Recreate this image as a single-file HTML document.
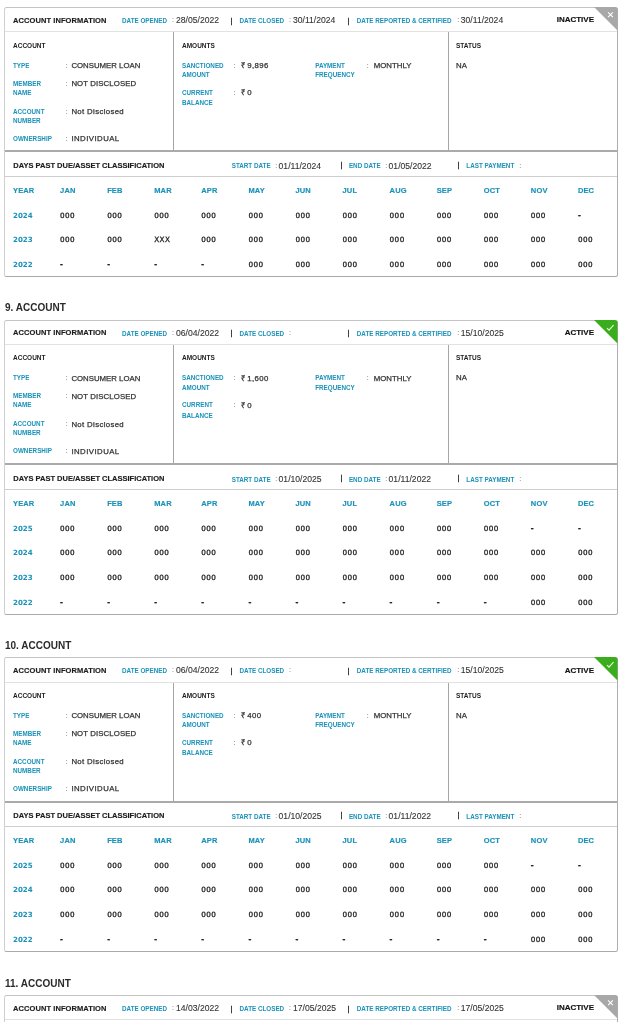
<!DOCTYPE html>
<html><head><meta charset="utf-8"><title>Account Report</title><style>
*{margin:0;padding:0;box-sizing:border-box}
html,body{width:630px;height:1026px;background:#fff}
.page{position:relative;width:630px;height:1026px;overflow:hidden;background:#fff}
body{font-family:"Liberation Sans",Arial,sans-serif;color:#1d1d1d}
.card{position:absolute;left:4px;width:614px;border:1px solid;border-color:#c4c4c4 #aeaeae #aaaaaa #d0d0d0;border-radius:2.5px;background:#fff}
.card>div{position:absolute;white-space:nowrap;line-height:0;height:0}
.hdr{left:0;right:0;top:23px;height:1px!important;background:#e2e2e2}
.vd{top:24px;width:1px;height:119px!important;background:#a6a6a6}
.thk{left:0;right:0;top:142px;height:2px!important;background:#aaaaaa}
.dpd{left:0;right:0;top:168px;height:1px!important;background:#cfcfcf}
.tri{position:absolute;right:-1px;top:-1px}
.ttl{position:absolute;left:5px;font-size:10px;letter-spacing:0px;font-weight:bold;color:#2a2a2a;line-height:0;white-space:nowrap}
.h1{font-size:7.5px;font-weight:bold;color:#1d1d1d;-webkit-text-stroke:0.15px #1d1d1d}
.h2{font-size:6.5px;font-weight:bold;color:#1d1d1d}
.lbs{font-size:6.3px;font-weight:bold;color:#1a92b9;margin-top:1px}
.lb{font-size:6.3px;font-weight:bold;color:#1a92b9}
.col{font-size:7px;color:#555}
.dt{font-size:8.6px;color:#333;-webkit-text-stroke:0.1px #333}
.v{font-size:7.8px;color:#333;-webkit-text-stroke:0.25px #333;margin-top:0.5px}
.card>.br{font-size:7.4px;color:#222;line-height:7px;height:7px!important;-webkit-text-stroke:0.3px #222}
.card>.ds{font-family:"Liberation Sans",sans-serif;font-weight:bold;font-size:8.6px;color:#222;margin-top:-1px}
.st{font-size:8px;font-weight:bold;color:#111;-webkit-text-stroke:0.15px #111}
.th{font-size:7.5px;font-weight:bold;color:#1a92b9;letter-spacing:0.15px;-webkit-text-stroke:0.15px #1a92b9}
.yr{font-family:"DejaVu Sans",sans-serif;font-size:7.1px;font-weight:bold;color:#1a92b9}
.td{font-family:"DejaVu Sans",sans-serif;font-size:7.25px;color:#222;letter-spacing:0.4px;-webkit-text-stroke:0.3px #222}
</style></head>
<body>
<div class="page">
<div class="card" style="top:7px;height:270.00px">
<div class="hdr" style="top:23px"></div>
<div class="h1" style="left:8px;top:12.5px;letter-spacing:0.08px">ACCOUNT INFORMATION</div>
<div class="lbs" style="left:117px;top:11.5px">DATE OPENED</div>
<div class="col" style="left:167px;top:11.5px">:</div>
<div class="dt" style="left:171px;top:11.5px">28/05/2022</div>
<div class="br" style="left:225.55px;top:9px">|</div>
<div class="lbs" style="left:234.5px;top:11.5px">DATE CLOSED</div>
<div class="col" style="left:284px;top:11.5px">:</div>
<div class="dt" style="left:288px;top:11.5px">30/11/2024</div>
<div class="br" style="left:342.55px;top:9px">|</div>
<div class="lbs" style="left:351.8px;top:11.5px">DATE REPORTED &amp; CERTIFIED</div>
<div class="col" style="left:452.3px;top:11.5px">:</div>
<div class="dt" style="left:455.8px;top:11.5px">30/11/2024</div>
<div class="st" style="right:23px;top:11.5px">INACTIVE</div>
<svg class="tri" width="24" height="24" viewBox="0 0 24 24"><path d="M0 0H20.5A3 3 0 0 1 23.5 3V23.5Z" fill="#a8a8a8"/><path d="M14.1 5.4L18.9 10.2M18.9 5.4L14.1 10.2" stroke="#fff" stroke-width="1.1" fill="none"/></svg>
<div class="vd" style="left:168px;top:24px;height:118px!important"></div>
<div class="vd" style="left:443px;top:24px;height:118px!important"></div>
<div class="h2" style="left:8px;top:37.9px">ACCOUNT</div>
<div class="h2" style="left:177px;top:37.9px">AMOUNTS</div>
<div class="h2" style="left:451px;top:37.9px">STATUS</div>
<div class="lb" style="left:8px;top:57.9px">TYPE</div>
<div class="col" style="left:60.7px;top:57.9px">:</div>
<div class="v" style="left:66.4px;top:57.9px">CONSUMER LOAN</div>
<div class="lb" style="left:8px;top:75.8px">MEMBER</div>
<div class="lb" style="left:8px;top:84.8px">NAME</div>
<div class="col" style="left:60.7px;top:75.8px">:</div>
<div class="v" style="left:66.4px;top:75.8px;letter-spacing:0.1px">NOT DISCLOSED</div>
<div class="lb" style="left:8px;top:103.5px">ACCOUNT</div>
<div class="lb" style="left:8px;top:112.5px">NUMBER</div>
<div class="col" style="left:60.7px;top:103.5px">:</div>
<div class="v" style="left:66.4px;top:103.5px;letter-spacing:0.35px">Not Disclosed</div>
<div class="lb" style="left:8px;top:130.5px">OWNERSHIP</div>
<div class="col" style="left:60.7px;top:130.5px">:</div>
<div class="v" style="left:66.4px;top:130.5px;letter-spacing:0.45px">INDIVIDUAL</div>
<div class="lb" style="left:177px;top:57.9px">SANCTIONED</div>
<div class="lb" style="left:177px;top:67.4px">AMOUNT</div>
<div class="col" style="left:228.6px;top:57.9px">:</div>
<div class="v" style="left:235.5px;top:57.9px;letter-spacing:0.35px">₹ 9,896</div>
<div class="lb" style="left:177px;top:84.8px">CURRENT</div>
<div class="lb" style="left:177px;top:95.0px">BALANCE</div>
<div class="col" style="left:228.6px;top:84.8px">:</div>
<div class="v" style="left:235.5px;top:84.8px;letter-spacing:0.35px">₹ 0</div>
<div class="lb" style="left:310.2px;top:57.9px">PAYMENT</div>
<div class="lb" style="left:310.2px;top:67.4px">FREQUENCY</div>
<div class="col" style="left:361.7px;top:57.9px">:</div>
<div class="v" style="left:368.8px;top:57.9px">MONTHLY</div>
<div class="v" style="left:451px;top:57.4px">NA</div>
<div class="thk" style="top:142px"></div>
<div class="h1" style="left:8.3px;top:157.6px">DAYS PAST DUE/ASSET CLASSIFICATION</div>
<div class="lbs" style="left:226.7px;top:156.6px">START DATE</div>
<div class="col" style="left:270.3px;top:157.6px">:</div>
<div class="dt" style="left:273.6px;top:157.6px">01/11/2024</div>
<div class="br" style="left:335.55px;top:153px">|</div>
<div class="lbs" style="left:343.9px;top:156.6px">END DATE</div>
<div class="col" style="left:380.2px;top:157.6px">:</div>
<div class="dt" style="left:383.6px;top:157.6px">01/05/2022</div>
<div class="br" style="left:452.55px;top:153px">|</div>
<div class="lbs" style="left:461.3px;top:156.6px">LAST PAYMENT</div>
<div class="col" style="left:514.2px;top:157.6px">:</div>
<div class="dpd"></div>
<div class="th" style="left:8.00px;top:182.88px">YEAR</div>
<div class="th" style="left:55.08px;top:182.88px">JAN</div>
<div class="th" style="left:102.15px;top:182.88px">FEB</div>
<div class="th" style="left:149.23px;top:182.88px">MAR</div>
<div class="th" style="left:196.31px;top:182.88px">APR</div>
<div class="th" style="left:243.38px;top:182.88px">MAY</div>
<div class="th" style="left:290.46px;top:182.88px">JUN</div>
<div class="th" style="left:337.54px;top:182.88px">JUL</div>
<div class="th" style="left:384.62px;top:182.88px">AUG</div>
<div class="th" style="left:431.69px;top:182.88px">SEP</div>
<div class="th" style="left:478.77px;top:182.88px">OCT</div>
<div class="th" style="left:525.85px;top:182.88px">NOV</div>
<div class="th" style="left:572.92px;top:182.88px">DEC</div>
<div class="yr" style="left:8.00px;top:207.62px">2024</div>
<div class="td" style="left:55.08px;top:207.62px">000</div>
<div class="td" style="left:102.15px;top:207.62px">000</div>
<div class="td" style="left:149.23px;top:207.62px">000</div>
<div class="td" style="left:196.31px;top:207.62px">000</div>
<div class="td" style="left:243.38px;top:207.62px">000</div>
<div class="td" style="left:290.46px;top:207.62px">000</div>
<div class="td" style="left:337.54px;top:207.62px">000</div>
<div class="td" style="left:384.62px;top:207.62px">000</div>
<div class="td" style="left:431.69px;top:207.62px">000</div>
<div class="td" style="left:478.77px;top:207.62px">000</div>
<div class="td" style="left:525.85px;top:207.62px">000</div>
<div class="td ds" style="left:572.92px;top:207.62px">-</div>
<div class="yr" style="left:8.00px;top:232.38px">2023</div>
<div class="td" style="left:55.08px;top:232.38px">000</div>
<div class="td" style="left:102.15px;top:232.38px">000</div>
<div class="td" style="left:149.23px;top:232.38px">XXX</div>
<div class="td" style="left:196.31px;top:232.38px">000</div>
<div class="td" style="left:243.38px;top:232.38px">000</div>
<div class="td" style="left:290.46px;top:232.38px">000</div>
<div class="td" style="left:337.54px;top:232.38px">000</div>
<div class="td" style="left:384.62px;top:232.38px">000</div>
<div class="td" style="left:431.69px;top:232.38px">000</div>
<div class="td" style="left:478.77px;top:232.38px">000</div>
<div class="td" style="left:525.85px;top:232.38px">000</div>
<div class="td" style="left:572.92px;top:232.38px">000</div>
<div class="yr" style="left:8.00px;top:257.12px">2022</div>
<div class="td ds" style="left:55.08px;top:257.12px">-</div>
<div class="td ds" style="left:102.15px;top:257.12px">-</div>
<div class="td ds" style="left:149.23px;top:257.12px">-</div>
<div class="td ds" style="left:196.31px;top:257.12px">-</div>
<div class="td" style="left:243.38px;top:257.12px">000</div>
<div class="td" style="left:290.46px;top:257.12px">000</div>
<div class="td" style="left:337.54px;top:257.12px">000</div>
<div class="td" style="left:384.62px;top:257.12px">000</div>
<div class="td" style="left:431.69px;top:257.12px">000</div>
<div class="td" style="left:478.77px;top:257.12px">000</div>
<div class="td" style="left:525.85px;top:257.12px">000</div>
<div class="td" style="left:572.92px;top:257.12px">000</div>
</div><div class="ttl" style="top:307.7px">9. ACCOUNT</div>
<div class="card" style="top:320px;height:294.75px">
<div class="hdr" style="top:23px"></div>
<div class="h1" style="left:8px;top:11.5px;letter-spacing:0.08px">ACCOUNT INFORMATION</div>
<div class="lbs" style="left:117px;top:11.5px">DATE OPENED</div>
<div class="col" style="left:167px;top:11.5px">:</div>
<div class="dt" style="left:171px;top:11.5px">06/04/2022</div>
<div class="br" style="left:225.55px;top:8px">|</div>
<div class="lbs" style="left:234.5px;top:11.5px">DATE CLOSED</div>
<div class="col" style="left:284px;top:11.5px">:</div>
<div class="dt" style="left:288px;top:11.5px"></div>
<div class="br" style="left:342.55px;top:8px">|</div>
<div class="lbs" style="left:351.8px;top:11.5px">DATE REPORTED &amp; CERTIFIED</div>
<div class="col" style="left:452.3px;top:11.5px">:</div>
<div class="dt" style="left:455.8px;top:11.5px">15/10/2025</div>
<div class="st" style="right:23px;top:11.5px">ACTIVE</div>
<svg class="tri" width="24" height="24" viewBox="0 0 24 24"><path d="M0 0H20.5A3 3 0 0 1 23.5 3V23.5Z" fill="#3aad1c"/><path d="M13 8.2L15 10.2L19.5 5.1" stroke="#e8ffe0" stroke-width="1.1" fill="none"/></svg>
<div class="vd" style="left:168px;top:24px;height:118px!important"></div>
<div class="vd" style="left:443px;top:24px;height:118px!important"></div>
<div class="h2" style="left:8px;top:37.4px">ACCOUNT</div>
<div class="h2" style="left:177px;top:37.4px">AMOUNTS</div>
<div class="h2" style="left:451px;top:37.4px">STATUS</div>
<div class="lb" style="left:8px;top:57.4px">TYPE</div>
<div class="col" style="left:60.7px;top:57.4px">:</div>
<div class="v" style="left:66.4px;top:57.4px">CONSUMER LOAN</div>
<div class="lb" style="left:8px;top:75.3px">MEMBER</div>
<div class="lb" style="left:8px;top:84.3px">NAME</div>
<div class="col" style="left:60.7px;top:75.3px">:</div>
<div class="v" style="left:66.4px;top:75.3px;letter-spacing:0.1px">NOT DISCLOSED</div>
<div class="lb" style="left:8px;top:103.0px">ACCOUNT</div>
<div class="lb" style="left:8px;top:112.0px">NUMBER</div>
<div class="col" style="left:60.7px;top:103.0px">:</div>
<div class="v" style="left:66.4px;top:103.0px;letter-spacing:0.35px">Not Disclosed</div>
<div class="lb" style="left:8px;top:130.0px">OWNERSHIP</div>
<div class="col" style="left:60.7px;top:130.0px">:</div>
<div class="v" style="left:66.4px;top:130.0px;letter-spacing:0.45px">INDIVIDUAL</div>
<div class="lb" style="left:177px;top:57.4px">SANCTIONED</div>
<div class="lb" style="left:177px;top:66.9px">AMOUNT</div>
<div class="col" style="left:228.6px;top:57.4px">:</div>
<div class="v" style="left:235.5px;top:57.4px;letter-spacing:0.35px">₹ 1,600</div>
<div class="lb" style="left:177px;top:84.3px">CURRENT</div>
<div class="lb" style="left:177px;top:94.5px">BALANCE</div>
<div class="col" style="left:228.6px;top:84.3px">:</div>
<div class="v" style="left:235.5px;top:84.3px;letter-spacing:0.35px">₹ 0</div>
<div class="lb" style="left:310.2px;top:57.4px">PAYMENT</div>
<div class="lb" style="left:310.2px;top:66.9px">FREQUENCY</div>
<div class="col" style="left:361.7px;top:57.4px">:</div>
<div class="v" style="left:368.8px;top:57.4px">MONTHLY</div>
<div class="v" style="left:451px;top:56.9px">NA</div>
<div class="thk" style="top:142px"></div>
<div class="h1" style="left:8.3px;top:157.6px">DAYS PAST DUE/ASSET CLASSIFICATION</div>
<div class="lbs" style="left:226.7px;top:157.6px">START DATE</div>
<div class="col" style="left:270.3px;top:157.6px">:</div>
<div class="dt" style="left:273.6px;top:157.6px">01/10/2025</div>
<div class="br" style="left:335.55px;top:153px">|</div>
<div class="lbs" style="left:343.9px;top:157.6px">END DATE</div>
<div class="col" style="left:380.2px;top:157.6px">:</div>
<div class="dt" style="left:383.6px;top:157.6px">01/11/2022</div>
<div class="br" style="left:452.55px;top:153px">|</div>
<div class="lbs" style="left:461.3px;top:157.6px">LAST PAYMENT</div>
<div class="col" style="left:514.2px;top:157.6px">:</div>
<div class="dpd"></div>
<div class="th" style="left:8.00px;top:182.88px">YEAR</div>
<div class="th" style="left:55.08px;top:182.88px">JAN</div>
<div class="th" style="left:102.15px;top:182.88px">FEB</div>
<div class="th" style="left:149.23px;top:182.88px">MAR</div>
<div class="th" style="left:196.31px;top:182.88px">APR</div>
<div class="th" style="left:243.38px;top:182.88px">MAY</div>
<div class="th" style="left:290.46px;top:182.88px">JUN</div>
<div class="th" style="left:337.54px;top:182.88px">JUL</div>
<div class="th" style="left:384.62px;top:182.88px">AUG</div>
<div class="th" style="left:431.69px;top:182.88px">SEP</div>
<div class="th" style="left:478.77px;top:182.88px">OCT</div>
<div class="th" style="left:525.85px;top:182.88px">NOV</div>
<div class="th" style="left:572.92px;top:182.88px">DEC</div>
<div class="yr" style="left:8.00px;top:207.62px">2025</div>
<div class="td" style="left:55.08px;top:207.62px">000</div>
<div class="td" style="left:102.15px;top:207.62px">000</div>
<div class="td" style="left:149.23px;top:207.62px">000</div>
<div class="td" style="left:196.31px;top:207.62px">000</div>
<div class="td" style="left:243.38px;top:207.62px">000</div>
<div class="td" style="left:290.46px;top:207.62px">000</div>
<div class="td" style="left:337.54px;top:207.62px">000</div>
<div class="td" style="left:384.62px;top:207.62px">000</div>
<div class="td" style="left:431.69px;top:207.62px">000</div>
<div class="td" style="left:478.77px;top:207.62px">000</div>
<div class="td ds" style="left:525.85px;top:207.62px">-</div>
<div class="td ds" style="left:572.92px;top:207.62px">-</div>
<div class="yr" style="left:8.00px;top:232.38px">2024</div>
<div class="td" style="left:55.08px;top:232.38px">000</div>
<div class="td" style="left:102.15px;top:232.38px">000</div>
<div class="td" style="left:149.23px;top:232.38px">000</div>
<div class="td" style="left:196.31px;top:232.38px">000</div>
<div class="td" style="left:243.38px;top:232.38px">000</div>
<div class="td" style="left:290.46px;top:232.38px">000</div>
<div class="td" style="left:337.54px;top:232.38px">000</div>
<div class="td" style="left:384.62px;top:232.38px">000</div>
<div class="td" style="left:431.69px;top:232.38px">000</div>
<div class="td" style="left:478.77px;top:232.38px">000</div>
<div class="td" style="left:525.85px;top:232.38px">000</div>
<div class="td" style="left:572.92px;top:232.38px">000</div>
<div class="yr" style="left:8.00px;top:257.12px">2023</div>
<div class="td" style="left:55.08px;top:257.12px">000</div>
<div class="td" style="left:102.15px;top:257.12px">000</div>
<div class="td" style="left:149.23px;top:257.12px">000</div>
<div class="td" style="left:196.31px;top:257.12px">000</div>
<div class="td" style="left:243.38px;top:257.12px">000</div>
<div class="td" style="left:290.46px;top:257.12px">000</div>
<div class="td" style="left:337.54px;top:257.12px">000</div>
<div class="td" style="left:384.62px;top:257.12px">000</div>
<div class="td" style="left:431.69px;top:257.12px">000</div>
<div class="td" style="left:478.77px;top:257.12px">000</div>
<div class="td" style="left:525.85px;top:257.12px">000</div>
<div class="td" style="left:572.92px;top:257.12px">000</div>
<div class="yr" style="left:8.00px;top:281.88px">2022</div>
<div class="td ds" style="left:55.08px;top:281.88px">-</div>
<div class="td ds" style="left:102.15px;top:281.88px">-</div>
<div class="td ds" style="left:149.23px;top:281.88px">-</div>
<div class="td ds" style="left:196.31px;top:281.88px">-</div>
<div class="td ds" style="left:243.38px;top:281.88px">-</div>
<div class="td ds" style="left:290.46px;top:281.88px">-</div>
<div class="td ds" style="left:337.54px;top:281.88px">-</div>
<div class="td ds" style="left:384.62px;top:281.88px">-</div>
<div class="td ds" style="left:431.69px;top:281.88px">-</div>
<div class="td ds" style="left:478.77px;top:281.88px">-</div>
<div class="td" style="left:525.85px;top:281.88px">000</div>
<div class="td" style="left:572.92px;top:281.88px">000</div>
</div><div class="ttl" style="top:645.7px">10. ACCOUNT</div>
<div class="card" style="top:657px;height:294.75px">
<div class="hdr" style="top:24px"></div>
<div class="h1" style="left:8px;top:12.5px;letter-spacing:0.08px">ACCOUNT INFORMATION</div>
<div class="lbs" style="left:117px;top:11.5px">DATE OPENED</div>
<div class="col" style="left:167px;top:11.5px">:</div>
<div class="dt" style="left:171px;top:11.5px">06/04/2022</div>
<div class="br" style="left:225.55px;top:9px">|</div>
<div class="lbs" style="left:234.5px;top:11.5px">DATE CLOSED</div>
<div class="col" style="left:284px;top:11.5px">:</div>
<div class="dt" style="left:288px;top:11.5px"></div>
<div class="br" style="left:342.55px;top:9px">|</div>
<div class="lbs" style="left:351.8px;top:11.5px">DATE REPORTED &amp; CERTIFIED</div>
<div class="col" style="left:452.3px;top:11.5px">:</div>
<div class="dt" style="left:455.8px;top:11.5px">15/10/2025</div>
<div class="st" style="right:23px;top:12.5px">ACTIVE</div>
<svg class="tri" width="24" height="24" viewBox="0 0 24 24"><path d="M0 0H20.5A3 3 0 0 1 23.5 3V23.5Z" fill="#3aad1c"/><path d="M13 8.2L15 10.2L19.5 5.1" stroke="#e8ffe0" stroke-width="1.1" fill="none"/></svg>
<div class="vd" style="left:168px;top:25px;height:118px!important"></div>
<div class="vd" style="left:443px;top:25px;height:118px!important"></div>
<div class="h2" style="left:8px;top:37.9px">ACCOUNT</div>
<div class="h2" style="left:177px;top:37.9px">AMOUNTS</div>
<div class="h2" style="left:451px;top:37.9px">STATUS</div>
<div class="lb" style="left:8px;top:57.9px">TYPE</div>
<div class="col" style="left:60.7px;top:57.9px">:</div>
<div class="v" style="left:66.4px;top:57.9px">CONSUMER LOAN</div>
<div class="lb" style="left:8px;top:75.8px">MEMBER</div>
<div class="lb" style="left:8px;top:84.8px">NAME</div>
<div class="col" style="left:60.7px;top:75.8px">:</div>
<div class="v" style="left:66.4px;top:75.8px;letter-spacing:0.1px">NOT DISCLOSED</div>
<div class="lb" style="left:8px;top:103.5px">ACCOUNT</div>
<div class="lb" style="left:8px;top:112.5px">NUMBER</div>
<div class="col" style="left:60.7px;top:103.5px">:</div>
<div class="v" style="left:66.4px;top:103.5px;letter-spacing:0.35px">Not Disclosed</div>
<div class="lb" style="left:8px;top:130.5px">OWNERSHIP</div>
<div class="col" style="left:60.7px;top:130.5px">:</div>
<div class="v" style="left:66.4px;top:130.5px;letter-spacing:0.45px">INDIVIDUAL</div>
<div class="lb" style="left:177px;top:57.9px">SANCTIONED</div>
<div class="lb" style="left:177px;top:67.4px">AMOUNT</div>
<div class="col" style="left:228.6px;top:57.9px">:</div>
<div class="v" style="left:235.5px;top:57.9px;letter-spacing:0.35px">₹ 400</div>
<div class="lb" style="left:177px;top:84.8px">CURRENT</div>
<div class="lb" style="left:177px;top:95.0px">BALANCE</div>
<div class="col" style="left:228.6px;top:84.8px">:</div>
<div class="v" style="left:235.5px;top:84.8px;letter-spacing:0.35px">₹ 0</div>
<div class="lb" style="left:310.2px;top:57.9px">PAYMENT</div>
<div class="lb" style="left:310.2px;top:67.4px">FREQUENCY</div>
<div class="col" style="left:361.7px;top:57.9px">:</div>
<div class="v" style="left:368.8px;top:57.9px">MONTHLY</div>
<div class="v" style="left:451px;top:57.4px">NA</div>
<div class="thk" style="top:143px"></div>
<div class="h1" style="left:8.3px;top:157.6px">DAYS PAST DUE/ASSET CLASSIFICATION</div>
<div class="lbs" style="left:226.7px;top:157.6px">START DATE</div>
<div class="col" style="left:270.3px;top:157.6px">:</div>
<div class="dt" style="left:273.6px;top:157.6px">01/10/2025</div>
<div class="br" style="left:335.55px;top:153px">|</div>
<div class="lbs" style="left:343.9px;top:157.6px">END DATE</div>
<div class="col" style="left:380.2px;top:157.6px">:</div>
<div class="dt" style="left:383.6px;top:157.6px">01/11/2022</div>
<div class="br" style="left:452.55px;top:153px">|</div>
<div class="lbs" style="left:461.3px;top:157.6px">LAST PAYMENT</div>
<div class="col" style="left:514.2px;top:157.6px">:</div>
<div class="dpd"></div>
<div class="th" style="left:8.00px;top:182.88px">YEAR</div>
<div class="th" style="left:55.08px;top:182.88px">JAN</div>
<div class="th" style="left:102.15px;top:182.88px">FEB</div>
<div class="th" style="left:149.23px;top:182.88px">MAR</div>
<div class="th" style="left:196.31px;top:182.88px">APR</div>
<div class="th" style="left:243.38px;top:182.88px">MAY</div>
<div class="th" style="left:290.46px;top:182.88px">JUN</div>
<div class="th" style="left:337.54px;top:182.88px">JUL</div>
<div class="th" style="left:384.62px;top:182.88px">AUG</div>
<div class="th" style="left:431.69px;top:182.88px">SEP</div>
<div class="th" style="left:478.77px;top:182.88px">OCT</div>
<div class="th" style="left:525.85px;top:182.88px">NOV</div>
<div class="th" style="left:572.92px;top:182.88px">DEC</div>
<div class="yr" style="left:8.00px;top:207.62px">2025</div>
<div class="td" style="left:55.08px;top:207.62px">000</div>
<div class="td" style="left:102.15px;top:207.62px">000</div>
<div class="td" style="left:149.23px;top:207.62px">000</div>
<div class="td" style="left:196.31px;top:207.62px">000</div>
<div class="td" style="left:243.38px;top:207.62px">000</div>
<div class="td" style="left:290.46px;top:207.62px">000</div>
<div class="td" style="left:337.54px;top:207.62px">000</div>
<div class="td" style="left:384.62px;top:207.62px">000</div>
<div class="td" style="left:431.69px;top:207.62px">000</div>
<div class="td" style="left:478.77px;top:207.62px">000</div>
<div class="td ds" style="left:525.85px;top:207.62px">-</div>
<div class="td ds" style="left:572.92px;top:207.62px">-</div>
<div class="yr" style="left:8.00px;top:232.38px">2024</div>
<div class="td" style="left:55.08px;top:232.38px">000</div>
<div class="td" style="left:102.15px;top:232.38px">000</div>
<div class="td" style="left:149.23px;top:232.38px">000</div>
<div class="td" style="left:196.31px;top:232.38px">000</div>
<div class="td" style="left:243.38px;top:232.38px">000</div>
<div class="td" style="left:290.46px;top:232.38px">000</div>
<div class="td" style="left:337.54px;top:232.38px">000</div>
<div class="td" style="left:384.62px;top:232.38px">000</div>
<div class="td" style="left:431.69px;top:232.38px">000</div>
<div class="td" style="left:478.77px;top:232.38px">000</div>
<div class="td" style="left:525.85px;top:232.38px">000</div>
<div class="td" style="left:572.92px;top:232.38px">000</div>
<div class="yr" style="left:8.00px;top:257.12px">2023</div>
<div class="td" style="left:55.08px;top:257.12px">000</div>
<div class="td" style="left:102.15px;top:257.12px">000</div>
<div class="td" style="left:149.23px;top:257.12px">000</div>
<div class="td" style="left:196.31px;top:257.12px">000</div>
<div class="td" style="left:243.38px;top:257.12px">000</div>
<div class="td" style="left:290.46px;top:257.12px">000</div>
<div class="td" style="left:337.54px;top:257.12px">000</div>
<div class="td" style="left:384.62px;top:257.12px">000</div>
<div class="td" style="left:431.69px;top:257.12px">000</div>
<div class="td" style="left:478.77px;top:257.12px">000</div>
<div class="td" style="left:525.85px;top:257.12px">000</div>
<div class="td" style="left:572.92px;top:257.12px">000</div>
<div class="yr" style="left:8.00px;top:281.88px">2022</div>
<div class="td ds" style="left:55.08px;top:281.88px">-</div>
<div class="td ds" style="left:102.15px;top:281.88px">-</div>
<div class="td ds" style="left:149.23px;top:281.88px">-</div>
<div class="td ds" style="left:196.31px;top:281.88px">-</div>
<div class="td ds" style="left:243.38px;top:281.88px">-</div>
<div class="td ds" style="left:290.46px;top:281.88px">-</div>
<div class="td ds" style="left:337.54px;top:281.88px">-</div>
<div class="td ds" style="left:384.62px;top:281.88px">-</div>
<div class="td ds" style="left:431.69px;top:281.88px">-</div>
<div class="td ds" style="left:478.77px;top:281.88px">-</div>
<div class="td" style="left:525.85px;top:281.88px">000</div>
<div class="td" style="left:572.92px;top:281.88px">000</div>
</div><div class="ttl" style="top:984.0px">11. ACCOUNT</div>
<div class="card" style="top:995px;height:220.50px">
<div class="hdr" style="top:23px"></div>
<div class="h1" style="left:8px;top:12.5px;letter-spacing:0.08px">ACCOUNT INFORMATION</div>
<div class="lbs" style="left:117px;top:11.5px">DATE OPENED</div>
<div class="col" style="left:167px;top:11.5px">:</div>
<div class="dt" style="left:171px;top:11.5px">14/03/2022</div>
<div class="br" style="left:225.55px;top:9px">|</div>
<div class="lbs" style="left:234.5px;top:11.5px">DATE CLOSED</div>
<div class="col" style="left:284px;top:11.5px">:</div>
<div class="dt" style="left:288px;top:11.5px">17/05/2025</div>
<div class="br" style="left:342.55px;top:9px">|</div>
<div class="lbs" style="left:351.8px;top:11.5px">DATE REPORTED &amp; CERTIFIED</div>
<div class="col" style="left:452.3px;top:11.5px">:</div>
<div class="dt" style="left:455.8px;top:11.5px">17/05/2025</div>
<div class="st" style="right:23px;top:11.5px">INACTIVE</div>
<svg class="tri" width="24" height="24" viewBox="0 0 24 24"><path d="M0 0H20.5A3 3 0 0 1 23.5 3V23.5Z" fill="#a8a8a8"/><path d="M14.1 5.4L18.9 10.2M18.9 5.4L14.1 10.2" stroke="#fff" stroke-width="1.1" fill="none"/></svg>
<div class="h2" style="left:8px;top:37.9px">ACCOUNT</div>
<div class="h2" style="left:177px;top:37.9px">AMOUNTS</div>
<div class="h2" style="left:451px;top:37.9px">STATUS</div>
<div class="lb" style="left:8px;top:57.9px">TYPE</div>
<div class="col" style="left:60.7px;top:57.9px">:</div>
<div class="v" style="left:66.4px;top:57.9px">CONSUMER LOAN</div>
<div class="lb" style="left:8px;top:75.8px">MEMBER</div>
<div class="lb" style="left:8px;top:84.8px">NAME</div>
<div class="col" style="left:60.7px;top:75.8px">:</div>
<div class="v" style="left:66.4px;top:75.8px;letter-spacing:0.1px">NOT DISCLOSED</div>
<div class="lb" style="left:8px;top:103.5px">ACCOUNT</div>
<div class="lb" style="left:8px;top:112.5px">NUMBER</div>
<div class="col" style="left:60.7px;top:103.5px">:</div>
<div class="v" style="left:66.4px;top:103.5px;letter-spacing:0.35px">Not Disclosed</div>
<div class="lb" style="left:8px;top:130.5px">OWNERSHIP</div>
<div class="col" style="left:60.7px;top:130.5px">:</div>
<div class="v" style="left:66.4px;top:130.5px;letter-spacing:0.45px">INDIVIDUAL</div>
<div class="lb" style="left:177px;top:57.9px">SANCTIONED</div>
<div class="lb" style="left:177px;top:67.4px">AMOUNT</div>
<div class="col" style="left:228.6px;top:57.9px">:</div>
<div class="v" style="left:235.5px;top:57.9px;letter-spacing:0.35px">₹ 0</div>
<div class="lb" style="left:177px;top:84.8px">CURRENT</div>
<div class="lb" style="left:177px;top:95.0px">BALANCE</div>
<div class="col" style="left:228.6px;top:84.8px">:</div>
<div class="v" style="left:235.5px;top:84.8px;letter-spacing:0.35px">₹ 0</div>
<div class="lb" style="left:310.2px;top:57.9px">PAYMENT</div>
<div class="lb" style="left:310.2px;top:67.4px">FREQUENCY</div>
<div class="col" style="left:361.7px;top:57.9px">:</div>
<div class="v" style="left:368.8px;top:57.9px">MONTHLY</div>
<div class="v" style="left:451px;top:57.4px">NA</div>
<div class="thk" style="top:142px"></div>
<div class="h1" style="left:8.3px;top:157.6px">DAYS PAST DUE/ASSET CLASSIFICATION</div>
<div class="lbs" style="left:226.7px;top:157.6px">START DATE</div>
<div class="col" style="left:270.3px;top:157.6px">:</div>
<div class="dt" style="left:273.6px;top:157.6px"></div>
<div class="br" style="left:335.55px;top:153px">|</div>
<div class="lbs" style="left:343.9px;top:157.6px">END DATE</div>
<div class="col" style="left:380.2px;top:157.6px">:</div>
<div class="dt" style="left:383.6px;top:157.6px"></div>
<div class="br" style="left:452.55px;top:153px">|</div>
<div class="lbs" style="left:461.3px;top:157.6px">LAST PAYMENT</div>
<div class="col" style="left:514.2px;top:157.6px">:</div>
<div class="dpd"></div>
<div class="th" style="left:8.00px;top:182.88px">YEAR</div>
<div class="th" style="left:55.08px;top:182.88px">JAN</div>
<div class="th" style="left:102.15px;top:182.88px">FEB</div>
<div class="th" style="left:149.23px;top:182.88px">MAR</div>
<div class="th" style="left:196.31px;top:182.88px">APR</div>
<div class="th" style="left:243.38px;top:182.88px">MAY</div>
<div class="th" style="left:290.46px;top:182.88px">JUN</div>
<div class="th" style="left:337.54px;top:182.88px">JUL</div>
<div class="th" style="left:384.62px;top:182.88px">AUG</div>
<div class="th" style="left:431.69px;top:182.88px">SEP</div>
<div class="th" style="left:478.77px;top:182.88px">OCT</div>
<div class="th" style="left:525.85px;top:182.88px">NOV</div>
<div class="th" style="left:572.92px;top:182.88px">DEC</div>
<div class="yr" style="left:8.00px;top:207.62px">2025</div>
<div class="td" style="left:55.08px;top:207.62px">000</div>
<div class="td" style="left:102.15px;top:207.62px">000</div>
<div class="td" style="left:149.23px;top:207.62px">000</div>
<div class="td" style="left:196.31px;top:207.62px">000</div>
<div class="td" style="left:243.38px;top:207.62px">000</div>
<div class="td" style="left:290.46px;top:207.62px">000</div>
<div class="td" style="left:337.54px;top:207.62px">000</div>
<div class="td" style="left:384.62px;top:207.62px">000</div>
<div class="td" style="left:431.69px;top:207.62px">000</div>
<div class="td" style="left:478.77px;top:207.62px">000</div>
<div class="td" style="left:525.85px;top:207.62px">000</div>
<div class="td" style="left:572.92px;top:207.62px">000</div>
</div>
<div style="position:absolute;left:0;top:1021.5px;width:630px;height:10px;background:#fff"></div>
</div>
</body></html>
